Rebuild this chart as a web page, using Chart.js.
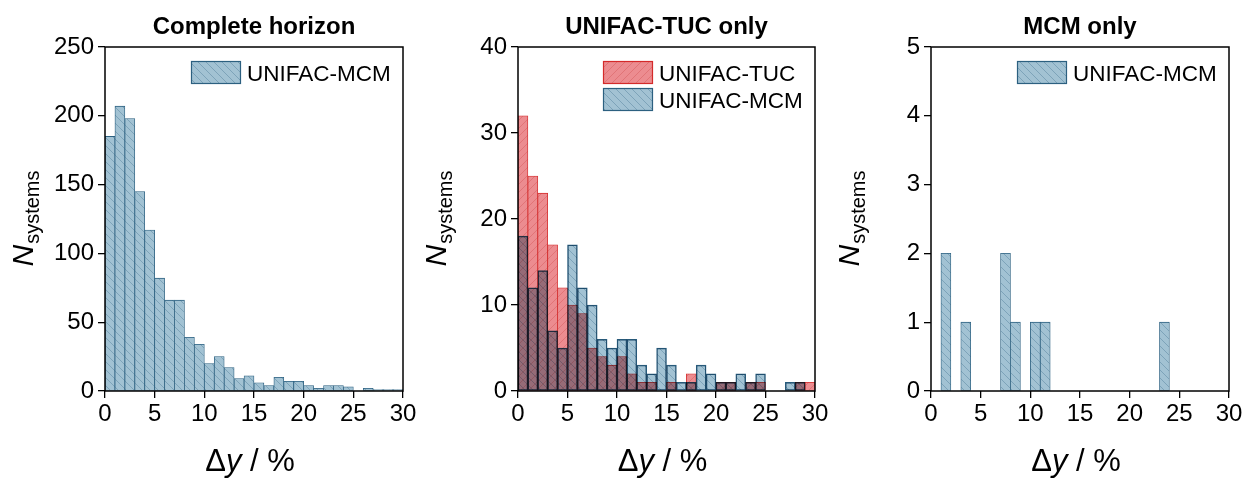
<!DOCTYPE html>
<html><head><meta charset="utf-8">
<script src="https://cdn.jsdelivr.net/npm/chart.js@4.4.1/dist/chart.umd.min.js"></script>
<style>
html,body{margin:0;padding:0;background:#fff;}
#wrap{position:relative;width:1246px;height:478px;overflow:hidden;background:#fff;}
canvas{position:absolute;top:0;}
</style></head><body>
<div id="wrap">
<canvas id="c1" width="425" height="478" style="left:0px"></canvas>
<canvas id="c2" width="425" height="478" style="left:415px"></canvas>
<canvas id="c3" width="416" height="478" style="left:830px"></canvas>
</div>
<script>
// ---- data ----
const binStarts = [0,1,2,3,4,5,6,7,8,9,10,11,12,13,14,15,16,17,18,19,20,21,22,23,24,25,26,27,28,29];
const xTicks = [0,5,10,15,20,25,30];
const yTicksComplete = [0,50,100,150,200,250];
const yTicksTuc = [0,10,20,30,40];
const yTicksMcm = [0,1,2,3,4,5];
const completeMCM = [185,207,198,145,117,82,66,66,39,34,20,25,17,9,11,6,4,10,7,7,4,2,4,4,3,0,2,1,1,1];
const tucOnlyTUC  = [32,25,23,17,12,10,9,5,4,3,4,2,1,1,0,1,0,2,0,0,1,1,0,1,1,0,0,0,1,1];
const tucOnlyMCM  = [18,12,14,7,5,17,12,10,6,5,6,6,3,2,5,3,1,1,3,2,1,1,2,1,2,0,0,1,1,0];
const mcmOnlyMCM  = [0,2,0,1,0,0,0,2,1,0,1,1,0,0,0,0,0,0,0,0,0,0,0,1,0,0,0,0,0,0];
const titles = ['Complete horizon','UNIFAC-TUC only','MCM only'];
const seriesNames = ['UNIFAC-TUC','UNIFAC-MCM'];

const FONT = '"Liberation Sans", Arial, Helvetica, sans-serif';
const BLUE = {fill:'#a2c2d3', hatch:'#789fb5', edge:'#2c6080'};
const RED  = {fill:'#ec8c90', hatch:'#e07274', edge:'#d42a2a'};

function hatchPattern(col, dir){
  const s = 8;
  const c = document.createElement('canvas'); c.width = s; c.height = s;
  const g = c.getContext('2d');
  g.fillStyle = col.fill; g.fillRect(0,0,s,s);
  g.strokeStyle = col.hatch; g.lineWidth = 0.9;
  g.beginPath();
  if (dir === '\\'){
    g.moveTo(-1,-1); g.lineTo(s+1,s+1);
    g.moveTo(-1,s-1); g.lineTo(1,s+1);
    g.moveTo(s-1,-1); g.lineTo(s+1,1);
  } else {
    g.moveTo(-1,s+1); g.lineTo(s+1,-1);
    g.moveTo(-1,1); g.lineTo(1,-1);
    g.moveTo(s-1,s+1); g.lineTo(s+1,s-1);
  }
  g.stroke();
  return g.createPattern(c,'repeat');
}

function pts(vals){ return binStarts.map((b,i)=>({x:b+0.5, y:vals[i]})); }

function mkDataset(label, vals, col, dir, multiply, order){
  const pat = hatchPattern(col, dir);
  return {label, data: pts(vals), backgroundColor: pat, borderColor: col.edge, borderWidth: 0.8,
    borderSkipped: false, barPercentage: 1, categoryPercentage: 1, grouped: false,
    multiply, order, legendFill: pat, legendEdge: col.edge};
}

const deco = {
  id: 'deco',
  beforeDatasetDraw(chart, args){
    if (chart.data.datasets[args.index].multiply){ chart.ctx.save(); chart.ctx.globalCompositeOperation = 'multiply'; }
  },
  afterDatasetDraw(chart, args){
    if (chart.data.datasets[args.index].multiply){ chart.ctx.restore(); }
  },
  afterDraw(chart, args, o){
    const ctx = chart.ctx, a = chart.chartArea;
    ctx.save();
    // frame
    ctx.strokeStyle = '#000'; ctx.lineWidth = 1.5;
    ctx.strokeRect(a.left, a.top, a.right - a.left, a.bottom - a.top);
    ctx.fillStyle = '#000';
    // title
    ctx.font = 'bold 24px ' + FONT; ctx.textAlign = 'center'; ctx.textBaseline = 'alphabetic';
    ctx.fillText(o.title, (a.left + a.right)/2, 34);
    // legend
    ctx.textAlign = 'left';
    ctx.font = '22.5px ' + FONT;
    o.legend.forEach((idx, i) => {
      const ds = chart.data.datasets[idx];
      const bx = a.right - 212, by = a.top + 14 + i*27;
      ctx.fillStyle = ds.legendFill; ctx.fillRect(bx, by, 50, 23);
      ctx.strokeStyle = ds.legendEdge; ctx.lineWidth = 1.2; ctx.strokeRect(bx+0.5, by+0.5, 49, 22);
      ctx.fillStyle = '#000'; ctx.fillText(ds.label, a.right - 156, by + 20);
    });
    // y axis title  N_systems
    const cy = (a.top + a.bottom)/2;
    ctx.save();
    ctx.translate(a.left - 72, cy);
    ctx.rotate(-Math.PI/2);
    ctx.font = 'italic 30px ' + FONT;
    const wN = ctx.measureText('N').width;
    ctx.font = '20px ' + FONT;
    const wS = ctx.measureText('systems').width;
    const x0 = -(wN + wS)/2;
    ctx.font = 'italic 30px ' + FONT; ctx.fillText('N', x0, 0);
    ctx.font = '20px ' + FONT; ctx.fillText('systems', x0 + wN + 1, 6);
    ctx.restore();
    // x axis title  Δy / %
    const cx = (a.left + a.right)/2 - 4;
    const fs = 31;
    ctx.font = fs + 'px ' + FONT; const w1 = ctx.measureText('\u0394').width;
    ctx.font = 'italic ' + fs + 'px ' + FONT; const w2 = ctx.measureText('y').width;
    ctx.font = fs + 'px ' + FONT; const w3 = ctx.measureText(' / %').width;
    let x = cx - (w1 + w2 + w3)/2; const yb = 471;
    ctx.textAlign = 'left';
    ctx.font = fs + 'px ' + FONT; ctx.fillText('\u0394', x, yb); x += w1;
    ctx.font = 'italic ' + fs + 'px ' + FONT; ctx.fillText('y', x, yb); x += w2;
    ctx.font = fs + 'px ' + FONT; ctx.fillText(' / %', x, yb);
    ctx.restore();
  }
};

function makeChart(id, datasets, yTicks, yMax, yWidth, padRight, title, legend){
  return new Chart(document.getElementById(id), {
    type: 'bar',
    data: {datasets},
    plugins: [deco],
    options: {
      responsive: false, animation: false, devicePixelRatio: 1,
      layout: {padding: {top: 47, right: padRight, left: 0, bottom: 0}},
      plugins: {legend: {display: false}, tooltip: {enabled: false}, deco: {title, legend}},
      scales: {
        x: {type: 'linear', min: 0, max: 30, offset: false,
          afterBuildTicks: s => { s.ticks = xTicks.map(v => ({value: v})); },
          afterFit: s => { s.height = 87; s.paddingLeft = 0; s.paddingRight = 0; },
          grid: {display: true, offset: false, drawOnChartArea: false, drawTicks: true, tickLength: 7, color: '#000', lineWidth: 1.3},
          border: {display: false},
          ticks: {color: '#000', font: {family: FONT, size: 24}, padding: 2, maxRotation: 0, autoSkip: false}},
        y: {type: 'linear', min: 0, max: yMax,
          afterBuildTicks: s => { s.ticks = yTicks.map(v => ({value: v})); },
          afterFit: s => { s.width = yWidth; s.paddingTop = 0; s.paddingBottom = 0; },
          grid: {display: true, offset: false, drawOnChartArea: false, drawTicks: true, tickLength: 7, color: '#000', lineWidth: 1.3},
          border: {display: false},
          ticks: {color: '#000', font: {family: FONT, size: 24}, padding: 4, autoSkip: false}}
      }
    }
  });
}

makeChart('c1', [mkDataset(seriesNames[1], completeMCM, BLUE, '\\', false, 1)],
  yTicksComplete, 250, 105, 22, titles[0], [0]);
makeChart('c2', [mkDataset(seriesNames[0], tucOnlyTUC, RED, '/', false, 2),
                 mkDataset(seriesNames[1], tucOnlyMCM, BLUE, '\\', true, 1)],
  yTicksTuc, 40, 103, 25, titles[1], [0,1]);
makeChart('c3', [mkDataset(seriesNames[1], mcmOnlyMCM, BLUE, '\\', false, 1)],
  yTicksMcm, 5, 101, 17, titles[2], [0]);
</script>
</body></html>
